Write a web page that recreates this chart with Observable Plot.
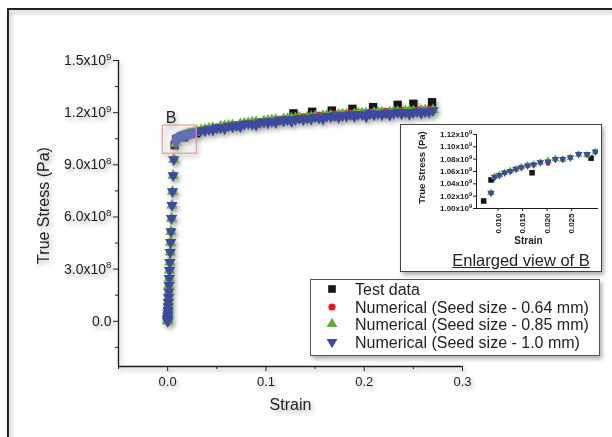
<!DOCTYPE html>
<html>
<head>
<meta charset="utf-8">
<script src="https://cdn.jsdelivr.net/npm/d3@7"></script>
<script src="https://cdn.jsdelivr.net/npm/@observablehq/plot@0.6"></script>
<style>
  html, body { margin: 0; padding: 0; background: white; }
  #wrap { position: relative; width: 612px; height: 437px; overflow: hidden;
          filter: drop-shadow(2px 3px 2px rgba(0,0,0,0.32)); }
  #wrap svg { position: absolute; left: 0; top: 0; }
  #frame { position: absolute; left: 7px; top: 8px; width: 620px; height: 440px;
           border-top: 2px solid #222; border-left: 2px solid #222; }
  #inset { position: absolute; left: 400px; top: 124px; width: 200px; height: 146px;
           background: white; border: 1px solid #444; }
  #inset svg { position: absolute; left: 0; top: 0; }
  #insetTitle { position: absolute; left: 40px; top: 126px; width: 160px; text-align: center;
           font: 16.5px 'Liberation Sans', Arial, sans-serif; color: #222; text-decoration: underline; }
  #legend { position: absolute; left: 310px; top: 279px; width: 288px; height: 75px;
           background: white; border: 1px solid #555; }
  #legend svg { position: absolute; left: 0; top: 0; }
</style>
</head>
<body>
<div id="wrap">
  <div id="frame"></div>
  <div id="main"></div>
  <div id="inset"><div id="insetTitle">Enlarged view of B</div></div>
  <div id="legend"></div>
</div>
<script>
// ---------------- data (stress in units of 1e9 Pa) ----------------
const seriesNames = [
  "Test data",
  "Numerical (Seed size - 0.64 mm)",
  "Numerical (Seed size - 0.85 mm)",
  "Numerical (Seed size - 1.0 mm)"
];

const testStrain = [0.00706, 0.00857, 0.01694, 0.02898, 0.048, 0.068, 0.088, 0.108,
  0.128, 0.147, 0.167, 0.188, 0.209, 0.234, 0.250, 0.269];
const testStress = [1.0122, 1.0463, 1.058, 1.0816, 1.108, 1.125, 1.140, 1.153,
  1.196, 1.205, 1.212, 1.222, 1.232, 1.245, 1.251, 1.260];

const numStrain = [
  0, 0.00002, 0.00006, 0.00012, 0.0002, 0.0003, 0.00042, 0.00057, 0.00073, 0.00092,
  0.00113, 0.00138, 0.00165, 0.00195, 0.00226, 0.00265, 0.00303, 0.00345, 0.00395, 0.00445,
  0.00498, 0.00559, 0.00621,
  0.00857, 0.0093, 0.0103, 0.01135, 0.0125, 0.01367, 0.01476, 0.01604, 0.01727, 0.01863,
  0.0202, 0.0217, 0.0232, 0.02475, 0.02645, 0.02816, 0.02986,
  0.034, 0.038, 0.042, 0.046, 0.050, 0.054, 0.058, 0.062, 0.066, 0.070,
  0.074, 0.078, 0.082, 0.086, 0.090, 0.094, 0.098, 0.102, 0.106, 0.110,
  0.114, 0.118, 0.122, 0.126, 0.130, 0.134, 0.138, 0.142, 0.146, 0.150,
  0.154, 0.158, 0.162, 0.166, 0.170, 0.174, 0.178, 0.182, 0.186, 0.190,
  0.194, 0.198, 0.202, 0.206, 0.210, 0.214, 0.218, 0.222, 0.226, 0.230,
  0.234, 0.238, 0.242, 0.246, 0.250, 0.254, 0.258, 0.262, 0.266, 0.270
];

const stress064 = [
  0, 0.003, 0.009, 0.018, 0.030, 0.045, 0.063, 0.085, 0.110, 0.138,
  0.170, 0.207, 0.247, 0.293, 0.339, 0.397, 0.454, 0.517, 0.592, 0.667,
  0.747, 0.839, 0.931,
  1.0253, 1.051, 1.0535, 1.0585, 1.0605, 1.0645, 1.0665, 1.0695, 1.0715, 1.0755,
  1.0735, 1.080, 1.0805, 1.0835, 1.0885, 1.0875, 1.0925,
  1.099, 1.104, 1.108, 1.112, 1.116, 1.119, 1.122, 1.125, 1.128, 1.131,
  1.134, 1.137, 1.140, 1.143, 1.146, 1.148, 1.151, 1.153, 1.156, 1.158,
  1.161, 1.163, 1.165, 1.168, 1.170, 1.172, 1.175, 1.177, 1.179, 1.181,
  1.183, 1.185, 1.187, 1.188, 1.190, 1.191, 1.193, 1.194, 1.196, 1.197,
  1.198, 1.200, 1.201, 1.202, 1.203, 1.204, 1.205, 1.206, 1.207, 1.208,
  1.209, 1.210, 1.211, 1.212, 1.213, 1.214, 1.215, 1.216, 1.217, 1.219
];

const stress085 = [
  0, 0.003, 0.009, 0.018, 0.030, 0.045, 0.063, 0.085, 0.110, 0.138,
  0.170, 0.207, 0.247, 0.293, 0.339, 0.397, 0.454, 0.517, 0.592, 0.667,
  0.747, 0.839, 0.931,
  1.0253, 1.0515, 1.0545, 1.058, 1.061, 1.0635, 1.067, 1.070, 1.0715, 1.0745,
  1.0775, 1.0805, 1.0795, 1.082, 1.0875, 1.0865, 1.0915,
  1.100, 1.105, 1.109, 1.113, 1.104, 1.120, 1.123, 1.126, 1.129, 1.116,
  1.135, 1.138, 1.141, 1.144, 1.147, 1.134, 1.152, 1.154, 1.157, 1.159,
  1.146, 1.163, 1.165, 1.167, 1.169, 1.171, 1.158, 1.175, 1.177, 1.179,
  1.165, 1.182, 1.184, 1.185, 1.171, 1.188, 1.190, 1.191, 1.178, 1.194,
  1.195, 1.197, 1.198, 1.184, 1.200, 1.201, 1.202, 1.188, 1.204, 1.205,
  1.206, 1.192, 1.208, 1.209, 1.210, 1.195, 1.212, 1.213, 1.200, 1.215
];

const stress100 = [
  0, 0.003, 0.009, 0.018, 0.030, 0.045, 0.063, 0.085, 0.110, 0.138,
  0.170, 0.207, 0.247, 0.293, 0.339, 0.397, 0.454, 0.517, 0.592, 0.667,
  0.747, 0.839, 0.931,
  1.0253, 1.051, 1.054, 1.058, 1.0605, 1.064, 1.0668, 1.0695, 1.071, 1.0747,
  1.076, 1.080, 1.080, 1.0826, 1.088, 1.088, 1.092,
  1.097, 1.096, 1.104, 1.100, 1.113, 1.113, 1.107, 1.123, 1.119, 1.126,
  1.121, 1.133, 1.138, 1.133, 1.129, 1.143, 1.148, 1.142, 1.150, 1.144,
  1.158, 1.154, 1.160, 1.150, 1.161, 1.168, 1.161, 1.169, 1.163, 1.175,
  1.170, 1.163, 1.179, 1.177, 1.184, 1.173, 1.183, 1.180, 1.189, 1.178,
  1.189, 1.188, 1.177, 1.196, 1.188, 1.194, 1.188, 1.198, 1.187, 1.197,
  1.203, 1.194, 1.202, 1.191, 1.201, 1.207, 1.197, 1.206, 1.203, 1.212
];

const yMajorTicks = [0, 0.3, 0.6, 0.9, 1.2, 1.5];
const yMinorTicks = [-0.15, 0.15, 0.45, 0.75, 1.05, 1.35];
const xMajorTicks = [0, 0.1, 0.2, 0.3];
const xMinorTicks = [-0.05, 0.05, 0.15, 0.25];
const insetYTicks = [1.00, 1.02, 1.04, 1.06, 1.08, 1.10, 1.12];
const insetXTicks = [0.010, 0.015, 0.020, 0.025];
const boxB = [{x1: -0.005, x2: 0.0296, y1: 0.964, y2: 1.126}];

// ---------------- build ----------------
const G = 1e9;
const pts = (xs, ys) => xs.map((s, i) => ({s, v: ys[i] * G}));
const test = pts(testStrain, testStress);
const n064 = pts(numStrain, stress064);
const n085 = pts(numStrain, stress085);
const n100 = pts(numStrain, stress100);

const colors = ["#161616", "#e8161c", "#5fb132", "#3d4a9e"];
const triangleDown = {
  draw(context, size) {
    const y = -Math.sqrt(size / (Math.sqrt(3) * 3));
    context.moveTo(0, -y * 2);
    context.lineTo(-Math.sqrt(3) * y, y);
    context.lineTo(Math.sqrt(3) * y, y);
    context.closePath();
  }
};
const symbols = ["square", "circle", "triangle", triangleDown];
const FONT = "'Liberation Sans', Arial, Helvetica, sans-serif";
const sciFmt = (v, digits) => {
  if (v === 0) return "0.0";
  const e = Math.floor(Math.log10(Math.abs(v)) + 1e-9);
  const m = v / Math.pow(10, e);
  return m.toFixed(digits) + "x10^" + e;
};
// turn "…x10^9" into a real superscript
function superscripts(svg) {
  svg.querySelectorAll("text").forEach(t => {
    const s = t.textContent;
    const k = s.indexOf("^");
    if (k < 0) return;
    t.textContent = s.slice(0, k);
    const sp = document.createElementNS("http://www.w3.org/2000/svg", "tspan");
    sp.setAttribute("font-size", "0.7em");
    sp.setAttribute("dy", "-0.55em");
    sp.textContent = s.slice(k + 1);
    t.appendChild(sp);
  });
}

function seriesMarks(r, extra) {
  const sets = [test, n064, n085, n100];
  const rs = [r * 1.12, r * 0.9, r, r];
  return sets.map((d, i) => Plot.dot(d, {
    x: "s", y: "v", symbol: symbols[i], r: rs[i], fill: colors[i], stroke: "none", ...extra
  }));
}

const main = Plot.plot({
  width: 612, height: 437,
  marginLeft: 118, marginRight: 150, marginTop: 60, marginBottom: 71,
  style: {fontFamily: FONT, fontSize: "13px", background: "transparent", color: "#222", overflow: "visible"},
  x: {domain: [-0.05, 0.3]},
  y: {domain: [-0.26 * G, 1.5 * G]},
  marks: [
    Plot.ruleX([-0.05], {stroke: "#1a1a1a", strokeWidth: 1.3}),
    Plot.ruleY([-0.26 * G], {stroke: "#1a1a1a", strokeWidth: 1.3}),
    Plot.axisY(yMajorTicks.map(d => d * G), {tickSize: 5, tickPadding: 2, tickFormat: d => sciFmt(d, 1), label: null, fontSize: 14}),
    Plot.axisY(yMinorTicks.map(d => d * G), {tickSize: 3, tickFormat: () => "", label: null}),
    Plot.axisX(xMajorTicks, {tickSize: 5, tickPadding: 5, tickFormat: d3.format(".1f"), label: null, fontSize: 13}),
    Plot.axisX(xMinorTicks, {tickSize: 3, tickFormat: () => "", label: null}),
    ...seriesMarks(4.2),
    Plot.rect(boxB, {x1: "x1", x2: "x2", y1: d => d.y1 * G, y2: d => d.y2 * G,
      fill: "white", fillOpacity: 0.2, stroke: "#e89a9a", strokeWidth: 1.2}),
    Plot.text(boxB, {x: "x1", y: d => d.y2 * G, text: () => "B", textAnchor: "start", dx: 3, dy: -8, fontSize: 16, fill: "#222"}),
    Plot.text(["True Stress (Pa)"], {text: d => d, frameAnchor: "left", textAnchor: "middle", lineAnchor: "middle",
      rotate: -90, dx: -75, dy: -8, fontSize: 16, fill: "#222"}),
    Plot.text(["Strain"], {text: d => d, frameAnchor: "bottom", textAnchor: "middle", lineAnchor: "middle",
      dy: 38, fontSize: 16, fill: "#222"})
  ]
});
superscripts(main);
document.getElementById("main").appendChild(main);

const inset = Plot.plot({
  width: 200, height: 146,
  marginLeft: 75, marginRight: 3, marginTop: 9, marginBottom: 63,
  style: {fontFamily: FONT, fontSize: "8px", fontWeight: "bold", background: "transparent", color: "#222", overflow: "visible"},
  x: {domain: [0.0056, 0.0305]},
  y: {domain: [1.0 * G, 1.12 * G]},
  marks: [
    Plot.ruleX([0.0056], {stroke: "#1a1a1a"}),
    Plot.ruleY([1.0 * G], {stroke: "#1a1a1a"}),
    Plot.axisY(insetYTicks.map(d => d * G), {tickSize: 3, tickPadding: 1.5, tickFormat: d => sciFmt(d, 2), label: null, fontSize: 8}),
    Plot.axisX(insetXTicks, {tickSize: 3, tickPadding: 2, tickRotate: -90, tickFormat: d3.format(".3f"), label: null, fontSize: 8}),
    ...seriesMarks(2.8, {clip: true}),
    Plot.text(["True Stress (Pa)"], {text: d => d, frameAnchor: "left", textAnchor: "middle", lineAnchor: "middle",
      rotate: -90, dx: -55, dy: -4, fontSize: 9.5, fill: "#222"}),
    Plot.text(["Strain"], {text: d => d, frameAnchor: "bottom", textAnchor: "middle", lineAnchor: "middle",
      dx: -9, dy: 32, fontSize: 10, fill: "#222"})
  ]
});
superscripts(inset);
document.getElementById("inset").appendChild(inset);

// legend
const leg = d3.select("#legend").append("svg").attr("width", 288).attr("height", 75)
  .style("font-family", FONT).style("font-size", "16px");
const rowY = [9, 27, 44, 62];
const symTypes = [d3.symbolSquare, d3.symbolCircle, d3.symbolTriangle, triangleDown];
const symR = [4.3, 3.6, 4, 4];
seriesNames.forEach((name, i) => {
  leg.append("path")
    .attr("d", d3.symbol(symTypes[i], Math.PI * symR[i] * symR[i])())
    .attr("transform", `translate(21,${rowY[i]})`)
    .attr("fill", colors[i]);
  leg.append("text").attr("x", 44).attr("y", rowY[i]).attr("dy", "0.36em")
    .attr("fill", "#222").text(name);
});
</script>
</body>
</html>
